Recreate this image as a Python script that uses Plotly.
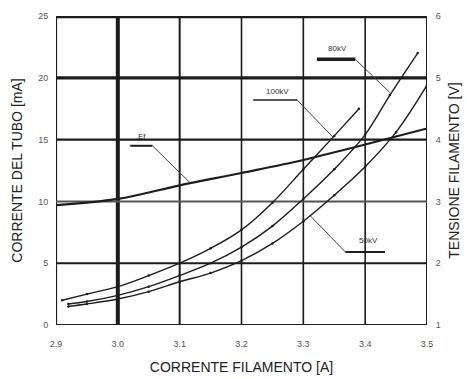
import plotly.graph_objects as go

# Filament current [A] and tube current [mA] for each anode voltage
i_100kv = [2.91, 2.95, 3.00, 3.05, 3.10, 3.15, 3.20, 3.25, 3.30, 3.35, 3.39]
ma_100kv = [2.0, 2.5, 3.1, 4.0, 5.0, 6.2, 7.7, 9.9, 12.6, 15.3, 17.5]

i_80kv = [2.92, 2.95, 3.00, 3.05, 3.10, 3.15, 3.20, 3.25, 3.30, 3.35, 3.40, 3.44, 3.485]
ma_80kv = [1.7, 1.9, 2.4, 3.1, 4.0, 5.0, 6.3, 8.0, 10.2, 12.6, 15.4, 18.6, 22.0]

i_50kv = [2.92, 2.95, 3.00, 3.05, 3.10, 3.15, 3.20, 3.25, 3.30, 3.35, 3.40, 3.45, 3.50]
ma_50kv = [1.5, 1.7, 2.1, 2.7, 3.5, 4.2, 5.2, 6.6, 8.4, 10.5, 12.8, 15.6, 19.4]

# Filament voltage Ef [V] against filament current [A]
i_ef = [2.90, 3.00, 3.10, 3.20, 3.30, 3.40, 3.50]
v_ef = [2.94, 3.04, 3.26, 3.46, 3.67, 3.92, 4.18]

x_ticks = [2.9, 3.0, 3.1, 3.2, 3.3, 3.4, 3.5]
x_tick_text = ["2.9", "3.0", "3.1", "3.2", "3.3", "3.4", "3.5"]
y_ticks = [0, 5, 10, 15, 20, 25]
y2_ticks = [1, 2, 3, 4, 5, 6]

INK = "#1c1c1c"
TICK_FONT = dict(size=9, color="#555555", family="Liberation Sans")
TITLE_FONT = dict(size=14, color="#222222", family="Liberation Sans")

fig = go.Figure()

for xs, ys in [(i_100kv, ma_100kv), (i_80kv, ma_80kv), (i_50kv, ma_50kv)]:
    fig.add_trace(go.Scatter(
        x=xs, y=ys, mode="lines+markers", line=dict(color=INK, width=1.4, shape="spline"),
        marker=dict(size=2.5, color=INK), showlegend=False, hoverinfo="skip"))

fig.add_trace(go.Scatter(
    x=i_ef, y=v_ef, yaxis="y2", mode="lines", line=dict(color=INK, width=2.2, shape="spline"),
    showlegend=False, hoverinfo="skip"))

# Grid: heavier rules at selected values
v_widths = {2.9: 2.2, 3.0: 4.0, 3.1: 2.0, 3.2: 1.6, 3.3: 1.6, 3.4: 1.6, 3.5: 2.0}
h_widths = {0: 2.2, 5: 2.0, 10: 2.0, 15: 2.2, 20: 3.2, 25: 4.5}
shapes = []
for xv in x_ticks:
    shapes.append(dict(type="line", xref="x", yref="y", x0=xv, x1=xv, y0=0, y1=25,
                       line=dict(color=INK, width=v_widths[xv]), layer="below"))
for yv in y_ticks:
    shapes.append(dict(type="line", xref="x", yref="y", x0=2.9, x1=3.5, y0=yv, y1=yv,
                       line=dict(color="#555555" if yv == 10 else INK, width=h_widths[yv]),
                       layer="below"))

# Curve labels: underline + leader to the curve
labels = [
    # text, text pos, underline (x0, x1, y), leader end, underline width
    ("Ef", (3.039, 15.25), (3.020, 3.056, 14.5), (3.117, 11.5), 2.0),
    ("100kV", (3.258, 18.9), (3.219, 3.290, 18.2), (3.348, 15.2), 1.6),
    ("80kV", (3.355, 22.35), (3.322, 3.384, 21.5), (3.440, 18.8), 3.5),
    ("50kV", (3.405, 6.85), (3.368, 3.432, 5.9), (3.311, 8.85), 2.0),
]
annotations = []
for text, (tx, ty), (ux0, ux1, uy), (lx, ly), uw in labels:
    annotations.append(dict(x=tx, y=ty, xref="x", yref="y", text=text, showarrow=False,
                            font=dict(size=8, color="#333333", family="Liberation Sans")))
    shapes.append(dict(type="line", xref="x", yref="y", x0=ux0, x1=ux1, y0=uy, y1=uy,
                       line=dict(color=INK, width=uw)))
    sx = ux1 if lx > ux1 else ux0
    shapes.append(dict(type="line", xref="x", yref="y", x0=sx, x1=lx, y0=uy, y1=ly,
                       line=dict(color="#444444", width=1.0)))

HIDDEN_TICK = "rgba(0,0,0,0)"

fig.update_layout(
    width=467, height=379,
    margin=dict(l=56, r=40, t=16, b=54, autoexpand=False),
    paper_bgcolor="white", plot_bgcolor="white",
    font=dict(family="Liberation Sans", color="#222222"),
    shapes=shapes, annotations=annotations,
    xaxis=dict(range=[2.9, 3.5], tickvals=x_ticks, ticktext=x_tick_text,
               showgrid=False, zeroline=False, showline=False, automargin=False,
               ticks="outside", ticklen=10, tickcolor=HIDDEN_TICK, tickfont=TICK_FONT,
               title=dict(text="CORRENTE FILAMENTO [A]", font=TITLE_FONT, standoff=14)),
    yaxis=dict(range=[0, 25], tickvals=y_ticks, showgrid=False, zeroline=False,
               showline=False, automargin=False, ticks="outside", ticklen=5,
               tickcolor=HIDDEN_TICK, tickfont=TICK_FONT,
               title=dict(text="CORRENTE DEL TUBO [mA]", font=TITLE_FONT, standoff=12)),
    yaxis2=dict(range=[1, 6], tickvals=y2_ticks, overlaying="y", side="right",
                showgrid=False, zeroline=False, showline=False, automargin=False,
                ticks="outside", ticklen=6, tickcolor=HIDDEN_TICK, tickfont=TICK_FONT,
                title=dict(text="TENSIONE FILAMENTO [V]", font=TITLE_FONT, standoff=9)),
)

fig.write_html("out.html")
